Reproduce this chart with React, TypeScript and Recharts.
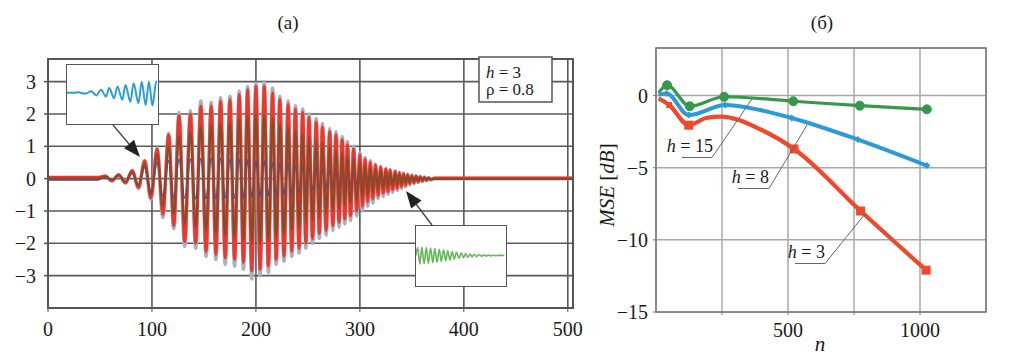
import React from 'react';
import { LineChart, Line, XAxis, YAxis, CartesianGrid } from 'recharts';

// ---------------- data: panel (a) ----------------
const sigN = [0, 48, 55, 61.5, 68, 74.5, 81, 87, 93, 99, 105, 110.5, 116, 121, 126, 131.5, 137, 142, 147, 152, 157, 161.5, 166, 170.5, 175, 179.5, 184, 188, 192, 196, 200, 204, 208, 212, 216, 219.5, 223, 227, 231, 234.5, 238, 241.5, 245, 248, 251, 254.5, 258, 261, 264, 267.5, 271, 274, 277, 280, 283, 285.5, 288, 291, 294, 297, 300, 302.5, 305, 307.5, 310, 312.5, 315, 317.5, 320, 322.5, 325, 327, 329, 331.5, 334, 336, 338, 340, 342, 344, 346, 348, 350, 352, 354, 356, 358, 360, 362, 364, 366, 368, 372, 505];
const grayV = [0, 0, 0.08, -0.08, 0.12, -0.14, 0.25, -0.3, 0.55, -0.65, 0.95, -1.2, 1.4, -1.55, 2.05, -2.1, 2.1, -2.15, 2.4, -2.4, 2.35, -2.5, 2.5, -2.65, 2.55, -2.7, 2.7, -2.8, 2.85, -3.1, 2.95, -3.0, 3.0, -2.9, 2.8, -2.65, 2.55, -2.55, 2.4, -2.4, 2.25, -2.3, 2.15, -2.15, 2.0, -2.0, 1.85, -1.85, 1.7, -1.75, 1.55, -1.6, 1.45, -1.5, 1.3, -1.4, 1.15, -1.3, 1.0, -1.15, 0.8, -1.0, 0.65, -0.85, 0.55, -0.75, 0.45, -0.62, 0.38, -0.55, 0.32, -0.48, 0.28, -0.42, 0.24, -0.36, 0.2, -0.3, 0.17, -0.25, 0.14, -0.2, 0.11, -0.16, 0.09, -0.12, 0.07, -0.09, 0.05, -0.06, 0.03, -0.04, 0, 0];
const redV = [0.04, 0.04, 0.08, -0.06, 0.12, -0.13, 0.25, -0.28, 0.55, -0.6, 0.92, -1.1, 1.35, -1.45, 1.95, -1.95, 2.0, -2.0, 2.25, -2.25, 2.25, -2.35, 2.4, -2.45, 2.45, -2.5, 2.6, -2.6, 2.75, -2.85, 2.85, -2.8, 2.85, -2.7, 2.65, -2.5, 2.45, -2.4, 2.3, -2.25, 2.15, -2.15, 2.05, -2.0, 1.9, -1.85, 1.75, -1.7, 1.6, -1.6, 1.45, -1.45, 1.35, -1.35, 1.2, -1.25, 1.05, -1.15, 0.92, -1.0, 0.75, -0.85, 0.6, -0.72, 0.5, -0.62, 0.42, -0.52, 0.35, -0.45, 0.3, -0.4, 0.26, -0.34, 0.22, -0.3, 0.18, -0.25, 0.15, -0.2, 0.12, -0.16, 0.1, -0.13, 0.08, -0.1, 0.06, -0.07, 0.04, -0.05, 0.03, -0.03, 0.02, 0.02];
const oliveV = [0, 0, 0.06, -0.05, 0.1, -0.1, 0.2, -0.22, 0.45, -0.5, 0.75, -0.85, 1.0, -1.1, 1.35, -1.4, 1.45, -1.5, 1.6, -1.6, 1.65, -1.7, 1.7, -1.75, 1.75, -1.8, 1.85, -1.9, 1.95, -2.0, 2.0, -2.0, 1.95, -1.9, 1.85, -1.8, 1.7, -1.7, 1.6, -1.6, 1.5, -1.5, 1.4, -1.4, 1.3, -1.3, 1.2, -1.2, 1.1, -1.1, 1.0, -1.0, 0.9, -0.95, 0.8, -0.85, 0.7, -0.78, 0.62, -0.7, 0.52, -0.6, 0.42, -0.5, 0.35, -0.43, 0.3, -0.36, 0.25, -0.31, 0.21, -0.27, 0.18, -0.23, 0.15, -0.2, 0.13, -0.17, 0.11, -0.14, 0.09, -0.11, 0.07, -0.09, 0.06, -0.07, 0.05, -0.05, 0.03, -0.04, 0.02, -0.02, 0, 0];
const blueV = [-0.04, -0.04, 0.06, -0.06, 0.1, -0.1, 0.18, -0.2, 0.35, -0.4, 0.5, -0.55, 0.55, -0.6, 0.6, -0.6, 0.6, -0.62, 0.62, -0.62, 0.62, -0.62, 0.62, -0.6, 0.6, -0.6, 0.6, -0.6, 0.58, -0.58, 0.55, -0.55, 0.55, -0.52, 0.5, -0.5, 0.48, -0.48, 0.45, -0.45, 0.42, -0.42, 0.38, -0.38, 0.35, -0.35, 0.32, -0.32, 0.28, -0.28, 0.25, -0.25, 0.22, -0.22, 0.2, -0.2, 0.17, -0.17, 0.15, -0.15, 0.13, -0.13, 0.11, -0.11, 0.09, -0.09, 0.08, -0.08, 0.07, -0.07, 0.06, -0.06, 0.05, -0.05, 0.04, -0.04, 0.03, -0.03, 0.03, -0.03, 0.02, -0.02, 0.02, -0.02, 0.02, -0.02, 0.01, -0.01, 0.01, -0.01, 0.01, -0.01, -0.02, -0.02];
const leftXTicks = [0, 100, 200, 300, 400, 500];
const leftYTicks = [-3, -2, -1, 0, 1, 2, 3];

// inset (blue, early part of signal)
const insetBlueX = [0, 7.2, 12.6, 19.9, 27.1, 32.5, 37.9, 43.3, 46.9, 52.3, 56, 61.4, 65, 70.4, 74, 79.4, 83, 87.4, 91, 94.9, 99.3, 100];
const insetBlueV = [0, 0, 0.05, -0.08, 0.14, -0.22, 0.27, -0.33, 0.41, -0.46, 0.55, -0.6, 0.68, -0.77, 0.82, -0.9, 0.96, -1.04, 0.96, -1.1, 1.0, 0.95];
// inset (green, decaying tail)
const insetGreenX = [0, 1.8, 4.4, 6.5, 9.1, 11.6, 13.8, 16.4, 18.9, 21.1, 23.6, 26.2, 28.4, 30.9, 33.5, 35.6, 38.2, 40.7, 42.9, 45.5, 48.4, 50.9, 53.5, 55.6, 58.2, 60.7, 62.9, 65.5, 68, 70.9, 73.8, 76.4, 78.9, 81.8, 84.7, 87.3, 89.8, 92.7, 96.4, 99.3];
const insetGreenV = [0, 0.8, -0.87, 0.84, -0.84, 0.8, -0.8, 0.77, -0.74, 0.7, -0.68, 0.64, -0.6, 0.56, -0.52, 0.48, -0.45, 0.4, -0.36, 0.32, -0.29, 0.26, -0.23, 0.2, -0.18, 0.16, -0.14, 0.13, -0.11, 0.1, -0.08, 0.07, -0.06, 0.05, -0.04, 0.03, -0.02, 0.015, 0.01, 0];

// ---------------- data: panel (б) ----------------
const mseN_h15 = [10, 42, 128, 258, 520, 772, 1026];
const mseV_h15 = [0.19, 0.72, -0.74, -0.08, -0.39, -0.7, -0.95];
const marks_h15 = [42, 128, 258, 520, 772, 1026];
const mseN_h8 = [10, 40, 124, 262, 394, 514, 765, 1026];
const mseV_h8 = [0.05, 0.15, -1.35, -0.65, -1.0, -1.55, -3.05, -4.85];
const marks_h8 = [40, 124, 262, 514, 765, 1026];
const mseN_h3 = [10, 50, 124, 190, 245, 396, 523, 775, 1023];
const mseV_h3 = [-0.2, -0.65, -2.05, -1.55, -1.45, -2.35, -3.7, -8.0, -12.1];
const marks_h3 = [50, 124, 523, 775, 1023];
const rightXTicks = [250, 500, 750, 1000];
const rightXLabels = [500, 1000];
const rightYTicks = [-15, -10, -5, 0];

// ---------------- built tables ----------------
const sigRows = sigN.map((n, i) => ({ n, g: grayV[i], r: redV[i], o: oliveV[i], b: blueV[i] }));
const insetBlueRows = insetBlueX.map((x, i) => ({ x, v: insetBlueV[i] }));
const insetGreenRows = insetGreenX.map((x, i) => ({ x, v: insetGreenV[i] }));
const rowsH15 = mseN_h15.map((n, i) => ({ n, v: mseV_h15[i] }));
const rowsH8 = mseN_h8.map((n, i) => ({ n, v: mseV_h8[i] }));
const rowsH3 = mseN_h3.map((n, i) => ({ n, v: mseV_h3[i] }));

const FONT = "'Liberation Serif', 'DejaVu Serif', serif";
const minus = (v: number) => (v < 0 ? '\u2212' + Math.abs(v) : String(v));

// layout
const L = { x: 48, y: 59, r: 573, b: 308 };
const R = { x: 656, y: 48, r: 986, b: 312 };

const tickStyle = { fontFamily: FONT, fontSize: 20, fill: '#1a1a1a', style: { fontFamily: FONT } };

function makeDot(marks: number[], kind: string, color: string, size: number) {
  return (props: any) => {
    const { cx, cy, payload, index } = props;
    if (!payload || !marks.includes(payload.n) || cx == null) return <g key={'e' + index} />;
    const s = payload.n === marks[0] && kind === 'square' ? size * 0.65 : size;
    if (kind === 'circle') return <circle key={'d' + index} cx={cx} cy={cy} r={s} fill={color} stroke={color} />;
    if (kind === 'square') return <rect key={'d' + index} x={cx - s} y={cy - s} width={2 * s} height={2 * s} fill={color} />;
    return <polygon key={'d' + index} points={`${cx},${cy - s} ${cx + s},${cy} ${cx},${cy + s} ${cx - s},${cy}`} fill={color} />;
  };
}

function Arrow({ x1, y1, x2, y2 }: { x1: number; y1: number; x2: number; y2: number }) {
  const dx = x2 - x1, dy = y2 - y1;
  const len = Math.sqrt(dx * dx + dy * dy);
  const ux = dx / len, uy = dy / len;
  const hl = 17, hw = 6.5;
  const bx = x2 - ux * hl, by = y2 - uy * hl;
  const pts = `${x2},${y2} ${bx - uy * hw},${by + ux * hw} ${bx + uy * hw},${by - ux * hw}`;
  return (
    <g>
      <line x1={x1} y1={y1} x2={bx} y2={by} stroke="#444" strokeWidth={1.3} />
      <polygon points={pts} fill="#222" />
    </g>
  );
}

function HLabel({ x, y, text }: { x: number; y: number; text: string }) {
  return (
    <text x={x} y={y} textAnchor="end" fontSize={18} fill="#1a1a1a" style={{ fontFamily: FONT }}>
      <tspan fontStyle="italic">h</tspan>
      {' = ' + text}
    </text>
  );
}

export default function App() {
  return (
    <div style={{ position: 'absolute', left: 0, top: 0, width: 1009, height: 358, background: '#fff', overflow: 'hidden', fontFamily: FONT }}>
      {/* panel (a) */}
      <div style={{ position: 'absolute', left: 0, top: 0 }}>
        <LineChart width={590} height={358} data={sigRows} margin={{ top: L.y, right: 590 - L.r, bottom: 358 - L.b - 30, left: 0 }} style={{ fontFamily: FONT }}>
          <CartesianGrid stroke="#5a5a5a" strokeWidth={1.6} />
          <XAxis dataKey="n" type="number" domain={[0, 505]} ticks={leftXTicks} interval={0} allowDataOverflow height={30}
            tick={tickStyle} tickSize={4} tickMargin={10} axisLine={false} tickLine={{ stroke: '#555' }} />
          <YAxis type="number" domain={[-4, 3.7]} ticks={leftYTicks} interval={0} allowDataOverflow width={L.x}
            tick={tickStyle} tickSize={4} tickMargin={8} axisLine={false} tickLine={{ stroke: '#555', strokeWidth: 1.5 }} tickFormatter={minus} />
          <Line dataKey="g" type="monotone" stroke="#a9b0be" strokeWidth={3.6} dot={false} isAnimationActive={false} />
          <Line dataKey="r" type="monotone" stroke="#f0352a" strokeWidth={3} dot={false} isAnimationActive={false} />
          <Line dataKey="b" type="monotone" stroke="#54489e" strokeWidth={1.6} dot={false} isAnimationActive={false} />
          <Line dataKey="o" type="monotone" stroke="#8a4a26" strokeWidth={2} dot={false} isAnimationActive={false} />
        </LineChart>
      </div>

      {/* insets */}
      <div style={{ position: 'absolute', left: 66, top: 64, width: 93, height: 61, background: '#fff', border: '1.5px solid #555', boxSizing: 'border-box' }}>
        <LineChart width={90} height={58} data={insetBlueRows} margin={{ top: 0, right: 0, bottom: 0, left: 0 }}>
          <XAxis dataKey="x" type="number" domain={[0, 100]} hide />
          <YAxis type="number" domain={[-2.6, 2.4]} hide />
          <Line dataKey="v" type="monotone" stroke="#2a9fd6" strokeWidth={2} dot={false} isAnimationActive={false} />
        </LineChart>
      </div>
      <div style={{ position: 'absolute', left: 415, top: 225, width: 92, height: 62, background: '#fff', border: '1.5px solid #555', boxSizing: 'border-box' }}>
        <LineChart width={89} height={59} data={insetGreenRows} margin={{ top: 0, right: 0, bottom: 0, left: 0 }}>
          <XAxis dataKey="x" type="number" domain={[0, 100]} hide />
          <YAxis type="number" domain={[-3, 3]} hide />
          <Line dataKey="v" type="monotone" stroke="#66b85a" strokeWidth={1.6} dot={false} isAnimationActive={false} />
        </LineChart>
      </div>

      {/* panel (б) */}
      <div style={{ position: 'absolute', left: 590, top: 0 }}>
        <LineChart width={419} height={358} margin={{ top: R.y, right: 1009 - R.r, bottom: 358 - R.b - 30, left: 0 }} style={{ fontFamily: FONT }}>
          <CartesianGrid stroke="#a8a8a8" strokeWidth={1.5} />
          <XAxis dataKey="n" type="number" domain={[0, 1250]} ticks={rightXTicks} interval={0} allowDataOverflow height={30}
            tick={tickStyle} tickSize={3} tickMargin={8} axisLine={false} tickLine={{ stroke: '#777' }}
            tickFormatter={(v: number) => (rightXLabels.includes(v) ? String(v) : '')} />
          <YAxis type="number" domain={[-15, 3.3]} ticks={rightYTicks} interval={0} allowDataOverflow width={R.x - 590}
            tick={tickStyle} tickSize={3} tickMargin={5} axisLine={false} tickLine={{ stroke: '#777' }} tickFormatter={minus} />
          <Line data={rowsH15} dataKey="v" type="monotone" stroke="#36984a" strokeWidth={3.2}
            dot={makeDot(marks_h15, 'circle', '#36984a', 4.5)} isAnimationActive={false} />
          <Line data={rowsH8} dataKey="v" type="monotone" stroke="#2b9bd8" strokeWidth={4}
            dot={makeDot(marks_h8, 'diamond', '#2b9bd8', 3.5)} isAnimationActive={false} />
          <Line data={rowsH3} dataKey="v" type="monotone" stroke="#f0482a" strokeWidth={4.2}
            dot={makeDot(marks_h3, 'square', '#f0482a', 4.5)} isAnimationActive={false} />
        </LineChart>
      </div>

      {/* overlay: frames, annotations, titles */}
      <svg width={1009} height={358} style={{ position: 'absolute', left: 0, top: 0, pointerEvents: 'none', fontFamily: FONT }}>
        <rect x={L.x} y={L.y} width={L.r - L.x} height={L.b - L.y} fill="none" stroke="#555" strokeWidth={2} />
        <rect x={R.x} y={R.y} width={R.r - R.x} height={R.b - R.y} fill="none" stroke="#7a7a7a" strokeWidth={1.5} />

        <text x={288} y={29} textAnchor="middle" fontSize={19} fill="#1a1a1a">(a)</text>
        <text x={822} y={29} textAnchor="middle" fontSize={19} fill="#1a1a1a">(б)</text>

        {/* legend box */}
        <rect x={479} y={57} width={73} height={45} fill="#fff" stroke="#555" strokeWidth={1.5} />
        <text x={486} y={78} fontSize={17} fill="#1a1a1a"><tspan fontStyle="italic">h</tspan> = 3</text>
        <text x={486} y={95} fontSize={17} fill="#1a1a1a">ρ = 0.8</text>

        <Arrow x1={113} y1={125} x2={140} y2={157} />
        <Arrow x1={432} y1={225} x2={406} y2={191} />

        {/* right panel leader lines */}
        <polyline points="682,157.5 712,157.5 752,99" fill="none" stroke="#666" strokeWidth={1} />
        <polyline points="738,188.5 769,188.5 807,125" fill="none" stroke="#666" strokeWidth={1} />
        <polyline points="795,263.5 825,263.5 865,214" fill="none" stroke="#666" strokeWidth={1} />
        <HLabel x={713} y={152} text="15" />
        <HLabel x={769} y={183} text="8" />
        <HLabel x={825} y={258} text="3" />

        <text transform="translate(614,185) rotate(-90)" textAnchor="middle" fontSize={21} fill="#1a1a1a">
          <tspan fontStyle="italic">MSE</tspan> [<tspan fontStyle="italic">dB</tspan>]
        </text>
        <text x={820} y={351} textAnchor="middle" fontSize={21} fontStyle="italic" fill="#1a1a1a">n</text>
      </svg>
    </div>
  );
}
